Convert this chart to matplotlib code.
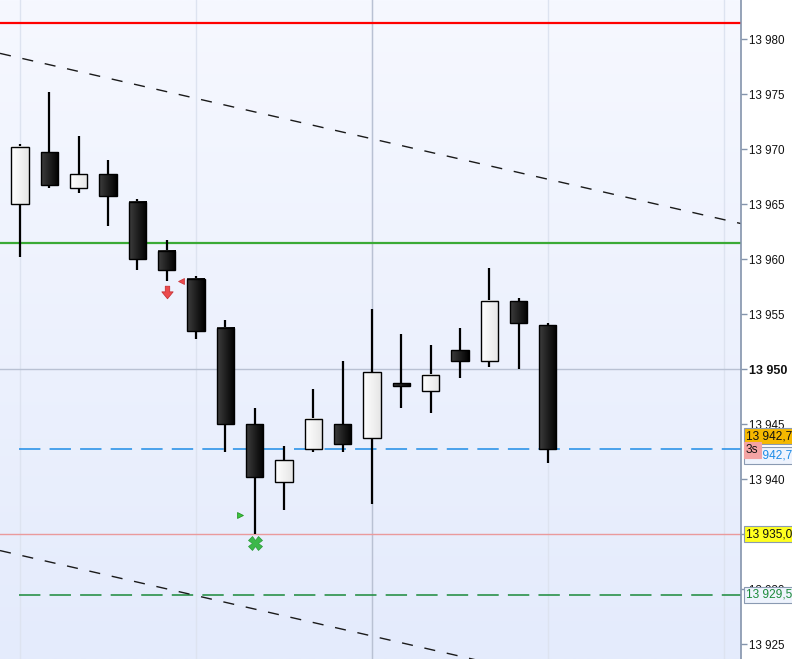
import numpy as np
import matplotlib
matplotlib.use("Agg")
import matplotlib.pyplot as plt
from matplotlib.patches import Rectangle
from matplotlib.path import Path
import matplotlib.transforms as mtransforms

plt.rcParams['font.family'] = ['Liberation Sans', 'DejaVu Sans']

# ---- data ----
opens  = [13965.00, 13969.75, 13966.50, 13967.75, 13965.25, 13960.75, 13958.25, 13953.75, 13945.00, 13939.75,
          13942.75, 13945.00, 13943.75, 13948.75, 13948.00, 13951.75, 13950.75, 13956.25, 13954.00]
highs  = [13970.50, 13975.25, 13971.25, 13969.00, 13965.50, 13961.75, 13958.50, 13954.50, 13946.50, 13943.00,
          13948.25, 13950.75, 13955.50, 13953.25, 13952.25, 13953.75, 13959.25, 13956.50, 13954.25]
lows   = [13960.25, 13966.50, 13966.00, 13963.00, 13959.00, 13958.00, 13952.75, 13942.50, 13935.00, 13937.25,
          13942.50, 13942.50, 13937.75, 13946.50, 13946.00, 13949.25, 13950.25, 13950.00, 13941.50]
closes = [13970.25, 13966.75, 13967.75, 13965.75, 13960.00, 13959.00, 13953.50, 13945.00, 13940.25, 13941.75,
          13945.50, 13943.25, 13949.75, 13948.50, 13949.50, 13950.75, 13956.25, 13954.25, 13942.75]

resistance_level = 13981.5
support_level = 13961.5
last_price = 13942.75
low_mark_level = 13935.00
target_level = 13929.50
crosshair_price = 13950.0
crosshair_bar = 12

upper_trend = ([0, 24], [13978.3, 13963.6])
lower_trend = ([0, 24], [13933.1, 13918.4])

sell_arrow = (5, 13957.0)
sell_tri = (5.5, 13958.0)
buy_tri = (7.5, 13936.75)
exit_x = (8, 13934.2)

y_ticks = [13925, 13930, 13935, 13940, 13945, 13950, 13955, 13960, 13965, 13970, 13975, 13980]
grid_bars = [0, 6, 12, 18, 24]

# ---- figure ----
W, H = 792, 659
fig = plt.figure(figsize=(W / 100, H / 100), dpi=100)
fig.patch.set_facecolor('white')
ax = fig.add_axes([0, 0, 741 / W, 1])

xmin, xmax = -0.682, 24.58
ymin, ymax = 13923.66, 13983.57

# background gradient
grad = np.linspace(0, 1, 256).reshape(-1, 1)
top = np.array([246, 248, 255]) / 255
bot = np.array([228, 235, 252]) / 255
img = top[None, None, :] * (1 - grad[:, :, None]) + bot[None, None, :] * grad[:, :, None]
ax.imshow(img, extent=[0, 1, 0, 1], transform=ax.transAxes, aspect='auto', zorder=0)

# vertical grid
for g in grid_bars:
    ax.axvline(g, color='#dde3f0', lw=1.0, zorder=1)

# crosshair
ax.axhline(crosshair_price, color='#b9c1d3', lw=1.0, zorder=1.5)
ax.axvline(crosshair_bar, color='#b9c1d3', lw=1.0, zorder=1.5)

# horizontal levels
ax.axhline(resistance_level, color='#ff0000', lw=1.6, zorder=2)
ax.axhline(support_level, color='#3aaa35', lw=1.6, zorder=2)
ax.axhline(low_mark_level, color='#ea9a9c', lw=1.0, zorder=2)
ax.plot([-0.05, xmax], [last_price, last_price], color='#1e8ce6', lw=1.1,
        dashes=(14, 6), zorder=2)
ax.plot([-0.05, xmax], [target_level, target_level], color='#1a8a3a', lw=1.1,
        dashes=(14, 6), zorder=2)

# trend lines
for tl in (upper_trend, lower_trend):
    xs, ys = tl
    slope = (ys[1] - ys[0]) / (xs[1] - xs[0])
    xa, xb = xmin, xmax
    ax.plot([xa, xb], [ys[0] + slope * (xa - xs[0]), ys[0] + slope * (xb - xs[0])],
            color='#1a1a1a', lw=1.0, dashes=(8, 8.5), zorder=2)

# candles
bw = 0.58
gx = np.linspace(0, 1, 64).reshape(1, -1)
for i, (o, h, l, c) in enumerate(zip(opens, highs, lows, closes)):
    ax.plot([i, i], [l, h], color='black', lw=1.6, solid_capstyle='butt', zorder=3)
    lo, hi = min(o, c), max(o, c)
    if hi - lo < 0.25:
        hi = lo + 0.25
    if c >= o:
        c0, c1 = np.array([1.0, 1.0, 1.0]), np.array([0.90, 0.90, 0.90])
    else:
        c0, c1 = np.array([0.24, 0.24, 0.24]), np.array([0.0, 0.0, 0.0])
    body = c0[None, None, :] * (1 - gx[:, :, None]) + c1[None, None, :] * gx[:, :, None]
    ax.imshow(body, extent=[i - bw / 2, i + bw / 2, lo, hi], aspect='auto', zorder=4,
              interpolation='bilinear')
    ax.add_patch(Rectangle((i - bw / 2, lo), bw, hi - lo, fill=False, ec='black', lw=1.0, zorder=5))

# markers
arrow = Path([(-0.35, 1.0), (0.35, 1.0), (0.35, 0.1), (0.9, 0.1), (0.0, -1.0),
              (-0.9, 0.1), (-0.35, 0.1), (-0.35, 1.0)],
             [Path.MOVETO] + [Path.LINETO] * 6 + [Path.CLOSEPOLY])
ax.plot(*sell_arrow, marker=arrow, ms=9, mfc='#ec4a4c', mec='#c83236', mew=0.6, zorder=6)
ax.plot(*sell_tri, marker='<', ms=4.5, mfc='#ec4a4c', mec='#c83236', mew=0.5, zorder=6)
ax.plot(*buy_tri, marker='>', ms=4.5, mfc='#3cc43c', mec='#1a8a1a', mew=0.5, zorder=6)
ax.plot(*exit_x, marker='X', ms=10, mfc='#3cb84a', mec='#2a9a38', mew=0.5, zorder=6)

ax.set_xlim(xmin, xmax)
ax.set_ylim(ymin, ymax)

# axes styling
for s in ('left', 'top', 'bottom'):
    ax.spines[s].set_visible(False)
ax.spines['right'].set_color('#8494ac')
ax.spines['right'].set_linewidth(1.2)
ax.set_xticks([])
ax.yaxis.tick_right()
ax.set_yticks(y_ticks)
ax.set_yticklabels([f"{int(v) // 1000} {int(v) % 1000:03d}" for v in y_ticks])
ax.tick_params(axis='y', direction='out', length=4, width=1, color='#8494ac',
               labelsize=8.4, pad=2, labelcolor='#111111')
for lab, v in zip(ax.get_yticklabels(), y_ticks):
    if v == crosshair_price:
        lab.set_fontweight('bold')
        lab.set_fontsize(9)

# right-hand price boxes
tr = mtransforms.blended_transform_factory(ax.transAxes, ax.transData)
xb = 746 / 741

def pbox(y, text, fc, tc, ec='#8a9ab2', z=10):
    ax.text(xb, y, text, transform=tr, ha='left', va='center', fontsize=8.6, color=tc,
            clip_on=False, zorder=z,
            bbox=dict(boxstyle='square,pad=0.18', fc=fc, ec=ec, lw=0.8))

px = 1 / 11.0
pbox(last_price + 13 * px, "13 942,75", '#f5b800', '#111111', z=10)
pbox(last_price - 6.5 * px, "13 942,75", '#eef3fd', '#1e8ce6', z=10)
ax.text(xb, last_price - 1.0 * px, "3s", transform=tr, ha='left', va='center', fontsize=8.6,
        color='#111111', clip_on=False, zorder=11,
        bbox=dict(boxstyle='square,pad=0.18', fc='#f4a4a4', ec='#f4a4a4', lw=0.8))
pbox(low_mark_level, "13 935,00", '#ffff20', '#111111')
pbox(target_level, "13 929,50", '#eef3fd', '#1a8a3a')

fig.savefig('out.png', dpi=100)
